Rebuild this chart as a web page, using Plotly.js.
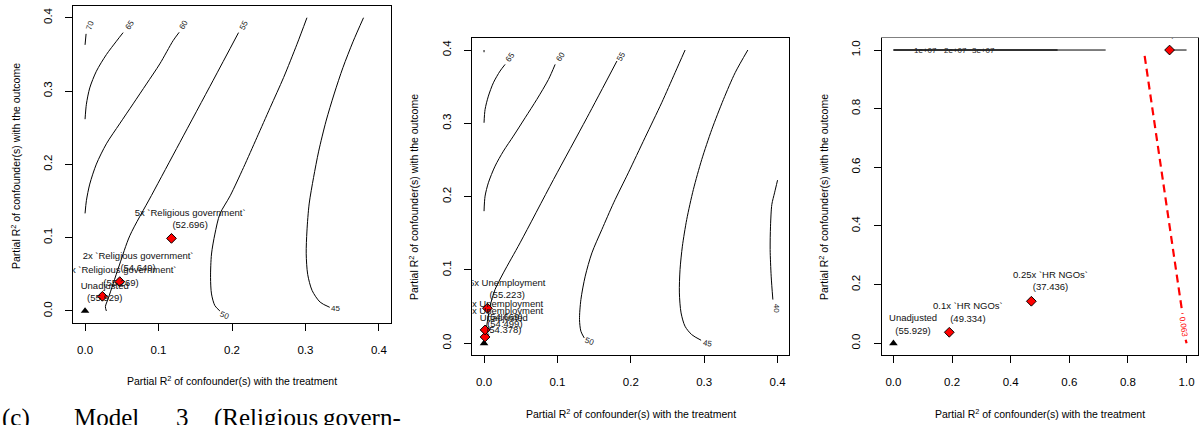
<!DOCTYPE html>
<html><head><meta charset="utf-8">
<script src="https://cdn.plot.ly/plotly-3.0.1.min.js"></script>
<style>html,body{margin:0;padding:0;background:#fff}#chart{width:1199px;height:425px}</style>
</head><body><div id="chart"></div>
<script>
// ===== Panel 1: Religious government =====
const p1_c70_x = [0, 0.0014];
const p1_c70_y = [0.363, 0.378];
const p1_c65_x = [0, 0.0018, 0.0064, 0.0154, 0.029, 0.0427, 0.0518];
const p1_c65_y = [0.2616, 0.282, 0.3043, 0.327, 0.3497, 0.368, 0.3797];
const p1_c60_x = [0, 0.0018, 0.0064, 0.0154, 0.029, 0.047, 0.0654, 0.0836, 0.1017, 0.1199, 0.1281];
const p1_c60_y = [0.1331, 0.1504, 0.1731, 0.2003, 0.228, 0.2552, 0.2825, 0.3097, 0.337, 0.3688, 0.3801];
const p1_c55_x = [0.029, 0.0277, 0.0313, 0.0381, 0.0472, 0.0609, 0.0904, 0.129, 0.1744, 0.2089];
const p1_c55_y = [0.0, 0.006, 0.0163, 0.0368, 0.064, 0.1026, 0.1576, 0.2298, 0.3147, 0.3797];
const p1_c50_x = [0.1835, 0.1767, 0.1721, 0.1708, 0.1721, 0.1767, 0.1835, 0.1975, 0.2157, 0.2339, 0.252, 0.2702, 0.2884, 0.302];
const p1_c50_y = [0.0, 0.0073, 0.0232, 0.0459, 0.0777, 0.1049, 0.1322, 0.1571, 0.1957, 0.2366, 0.2775, 0.3184, 0.3638, 0.4];
const p1_c45_x = [0.333, 0.320, 0.309, 0.303, 0.301, 0.302, 0.305, 0.311, 0.318, 0.328, 0.339, 0.351, 0.365, 0.379];
const p1_c45_y = [0.005, 0.012, 0.028, 0.050, 0.078, 0.109, 0.146, 0.182, 0.218, 0.259, 0.296, 0.332, 0.368, 0.4];
const p1_levels = ["70", "65", "60", "55", "50", "45"];
const p1_level_x = [0.0064, 0.060, 0.1335, 0.2157, 0.190, 0.3406];
const p1_level_y = [0.390, 0.390, 0.390, 0.390, -0.006, 0.0027];
const p1_unadj_x = [0];
const p1_unadj_y = [0];
const p1_bench_x = [0.0236, 0.0472, 0.1176];
const p1_bench_y = [0.020, 0.040, 0.099];
const p1_labels = ["Unadjusted<br>(55.929)", "1x `Religious government`<br>(55.269)", "2x `Religious government`<br>(54.649)", "5x `Religious government`<br>(52.696)"];
const p1_label_x = [0.0268, 0.0490, 0.0722, 0.143];
const p1_label_y = [0.0253, 0.0463, 0.0656, 0.1243];

// ===== Panel 2: Unemployment =====
const p2_c70_x = [0, 0];
const p2_c70_y = [0.397, 0.4];
const p2_c65_x = [0, 0.0014, 0.0059, 0.0127, 0.0218, 0.0287];
const p2_c65_y = [0.3008, 0.3189, 0.3371, 0.3553, 0.3713, 0.3804];
const p2_c60_x = [0, 0.0014, 0.0059, 0.015, 0.0264, 0.04, 0.056, 0.0719, 0.0878, 0.0969];
const p2_c60_y = [0.1802, 0.2007, 0.2189, 0.2416, 0.2621, 0.2826, 0.3076, 0.3326, 0.3599, 0.3804];
const p2_c55_x = [0.0018, 0.0036, 0.0082, 0.015, 0.0264, 0.0491, 0.0947, 0.1402, 0.1811];
const p2_c55_y = [0.0073, 0.0232, 0.0505, 0.0733, 0.096, 0.137, 0.2234, 0.3076, 0.385];
const p2_c50_x = [0.1365, 0.132, 0.1301, 0.132, 0.1379, 0.147, 0.1606, 0.1766, 0.1966, 0.2193, 0.2421, 0.2603, 0.274];
const p2_c50_y = [0.0073, 0.0164, 0.0323, 0.0596, 0.0915, 0.1233, 0.1552, 0.1916, 0.2325, 0.2803, 0.3281, 0.3691, 0.4];
const p2_c45_x = [0.2958, 0.283, 0.2739, 0.2685, 0.2662, 0.2671, 0.2703, 0.2762, 0.2853, 0.2967, 0.3104, 0.3263, 0.3422, 0.3595];
const p2_c45_y = [0.0041, 0.0118, 0.0232, 0.0414, 0.0687, 0.1006, 0.1324, 0.1688, 0.2098, 0.2507, 0.2917, 0.3327, 0.3691, 0.4];
const p2_c40_x = [0.4, 0.3959, 0.3922, 0.3904, 0.3899, 0.3913, 0.3936];
const p2_c40_y = [0.2225, 0.2052, 0.1893, 0.1597, 0.1279, 0.0915, 0.0596];
const p2_levels = ["65", "60", "55", "50", "45", "40"];
const p2_level_x = [0.0355, 0.1047, 0.1866, 0.1438, 0.3049, 0.3982];
const p2_level_y = [0.3895, 0.391, 0.3918, 0.0027, -0.0005, 0.0482];
const p2_unadj_x = [0];
const p2_unadj_y = [0];
const p2_bench_x = [0.0014, 0.0014, 0.0046];
const p2_bench_y = [0.0086, 0.0182, 0.0478];
const p2_labels = ["Unadjusted<br>(54.378)", "1x Unemployment<br>(54.499)", "2x Unemployment<br>(54.669)", "5x Unemployment<br>(55.223)"];
const p2_label_x = [0.027, 0.0284, 0.0284, 0.0315];
const p2_label_y = [0.0255, 0.0345, 0.0440, 0.0730];

// ===== Panel 3: HR NGOs =====
const p3_top_x = [0, 0.724];
const p3_top_y = [1.0, 1.0];
const p3_top2_x = [0, 0.56];
const p3_top2_y = [1.0, 1.0];
const p3_right_x = [0.942, 1.0];
const p3_right_y = [1.0, 1.0];
const p3_red_x = [0.857, 0.986];
const p3_red_y = [0.98, 0.10];
const p3_red2_x = [0.997, 1.0];
const p3_red2_y = [0.012, 0.0];
const p3_levels = ["1e+07", "2e+07", "3e+07"];
const p3_level_x = [0.109, 0.211, 0.306];
const p3_level_y = [1.0, 1.0, 1.0];
const p3_red_label = "0.063";
const p3_red_label_x = 0.988;
const p3_red_label_y = 0.056;
const p3_unadj_x = [0];
const p3_unadj_y = [0];
const p3_bench_x = [0.1905, 0.4705, 0.942];
const p3_bench_y = [0.0375, 0.1433, 1.0];
const p3_labels = ["Unadjusted<br>(55.929)", "0.1x `HR NGOs`<br>(49.334)", "0.25x `HR NGOs`<br>(37.436)", "1x `HR NGOs`<br>(-20.437)"];
const p3_label_x = [0.067, 0.254, 0.536, 1.009];
const p3_label_y = [0.062, 0.103, 0.2094, 1.072];

const caption_words = ["(c)", "Model", "3", "(Religious", "govern-"];
const caption_px = [0, 72, 174, 212, 321];

// ===== build =====
const FONT = "Liberation Sans, Arial, Helvetica, sans-serif";
const W = 1199, H = 425;
const traces = [];
function line(ax, x, y, opts) {
  opts = opts || {};
  traces.push({type: 'scatter', mode: 'lines', x: x, y: y, xaxis: 'x' + ax, yaxis: 'y' + ax,
    line: Object.assign({color: '#000', width: 1, shape: 'spline', smoothing: 0.8}, opts),
    hoverinfo: 'skip', showlegend: false});
}
function markers(ax, ux, uy, bx, by) {
  traces.push({type: 'scatter', mode: 'markers', x: ux, y: uy, xaxis: 'x' + ax, yaxis: 'y' + ax,
    marker: {symbol: 'triangle-up', size: 7.5, color: '#000'}, hoverinfo: 'skip', showlegend: false});
  traces.push({type: 'scatter', mode: 'markers', x: bx, y: by, xaxis: 'x' + ax, yaxis: 'y' + ax,
    marker: {symbol: 'diamond', size: 7.5, color: '#ff0000', line: {color: '#000', width: 1}},
    hoverinfo: 'skip', showlegend: false});
}
function labels(ax, x, y, t) {
  traces.push({type: 'scatter', mode: 'text', x: x, y: y, text: t, xaxis: 'x' + ax, yaxis: 'y' + ax,
    textposition: 'middle center', cliponaxis: true,
    textfont: {family: FONT, size: 9.5, color: '#111'}, hoverinfo: 'skip', showlegend: false});
}

// panel 1
line('', p1_c70_x, p1_c70_y); line('', p1_c65_x, p1_c65_y); line('', p1_c60_x, p1_c60_y);
line('', p1_c55_x, p1_c55_y); line('', p1_c50_x, p1_c50_y); line('', p1_c45_x, p1_c45_y);
markers('', p1_unadj_x, p1_unadj_y, p1_bench_x, p1_bench_y);
labels('', p1_label_x, p1_label_y, p1_labels);
// panel 2
line('2', p2_c70_x, p2_c70_y); line('2', p2_c65_x, p2_c65_y); line('2', p2_c60_x, p2_c60_y);
line('2', p2_c55_x, p2_c55_y); line('2', p2_c50_x, p2_c50_y); line('2', p2_c45_x, p2_c45_y);
line('2', p2_c40_x, p2_c40_y);
markers('2', p2_unadj_x, p2_unadj_y, p2_bench_x, p2_bench_y);
labels('2', p2_label_x, p2_label_y, p2_labels);
// panel 3
line('3', p3_top2_x, p3_top2_y, {color: '#333', width: 1.4});
line('3', p3_top_x, p3_top_y);
line('3', p3_right_x, p3_right_y);
line('3', p3_red_x, p3_red_y, {color: '#ff0000', width: 2.2, dash: '8px,5px', shape: 'linear'});
line('3', p3_red2_x, p3_red2_y, {color: '#ff0000', width: 2.2, shape: 'linear'});
markers('3', p3_unadj_x, p3_unadj_y, p3_bench_x, p3_bench_y);
labels('3', p3_label_x, p3_label_y, p3_labels);

const ann = [];
const p1_angles = [-72, -55, -60, -62, 22, 0];
const p2_angles = [-55, -58, -60, 20, 8, 90];
function lvl(ax, t, x, y, a, color) {
  ann.push({xref: 'x' + ax, yref: 'y' + ax, x: x, y: y, text: t, textangle: a, showarrow: false,
    font: {family: FONT, size: 8, color: color || '#222'}, xanchor: 'center', yanchor: 'middle'});
}
p1_levels.forEach((t, i) => lvl('', t, p1_level_x[i], p1_level_y[i], p1_angles[i]));
p2_levels.forEach((t, i) => lvl('2', t, p2_level_x[i], p2_level_y[i], p2_angles[i]));
p3_levels.forEach((t, i) => lvl('3', t, p3_level_x[i], p3_level_y[i], 0));
lvl('3', p3_red_label, p3_red_label_x, p3_red_label_y, 82, '#ff0000');

const TF = {family: FONT, size: 10.5, color: '#000'};
const xt = "Partial R<sup>2</sup> of confounder(s) with the treatment";
const yt = "Partial R<sup>2</sup> of confounder(s) with the outcome";
function pa(text, px, py, angle) {
  ann.push({xref: 'paper', yref: 'paper', x: px / W, y: 1 - py / H, text: text, textangle: angle || 0,
    showarrow: false, font: TF, xanchor: 'center', yanchor: 'middle'});
}
pa(xt, 232, 380); pa(xt, 631, 413); pa(xt, 1040, 413);
pa(yt, 15, 166, -90); pa(yt, 413, 197, -90); pa(yt, 823, 197, -90);

caption_words.forEach((w, i) => {
  ann.push({xref: 'paper', yref: 'paper', x: caption_px[i] / W, y: 1 - 402 / H, text: w, showarrow: false,
    xanchor: 'left', yanchor: 'top', font: {family: 'Liberation Serif, Times New Roman, serif', size: 25, color: '#000'}});
});

function axis(dom, range, dtick, extra) {
  return Object.assign({domain: dom, range: range, dtick: dtick, tick0: 0, tickformat: '.1f',
    showgrid: false, zeroline: false, showline: true, mirror: true, linecolor: '#000', linewidth: 1,
    ticks: 'outside', ticklen: 7, tickwidth: 1, tickcolor: '#000', ticklabelstandoff: 9,
    tickfont: {family: FONT, size: 11.5, color: '#000'}, fixedrange: true}, extra || {});
}
const r1 = [-0.016, 0.416], r3 = [-0.04, 1.04];
const layout = {
  width: W, height: H, margin: {l: 0, r: 0, t: 0, b: 0}, paper_bgcolor: '#fff', plot_bgcolor: '#fff',
  showlegend: false,
  xaxis: axis([73.3 / W, 390.7 / W], r1, 0.1, {anchor: 'y'}),
  yaxis: axis([1 - 322.7 / H, 1 - 6 / H], r1, 0.1, {anchor: 'x', tickangle: -90}),
  xaxis2: axis([472.3 / W, 789.3 / W], r1, 0.1, {anchor: 'y2'}),
  yaxis2: axis([1 - 355 / H, 1 - 38.3 / H], r1, 0.1, {anchor: 'x2', tickangle: -90}),
  xaxis3: axis([881.7 / W, 1198.3 / W], r3, 0.2, {anchor: 'y3'}),
  yaxis3: axis([1 - 355 / H, 1 - 38.3 / H], r3, 0.2, {anchor: 'x3', tickangle: -90}),
  // white mask above panel 3 so the out-of-range benchmark label is cut at the box edge
  shapes: [{type: 'rect', xref: 'paper', yref: 'paper', layer: 'above',
    x0: 860 / W, x1: 1, y0: 1 - 37.6 / H, y1: 1, fillcolor: '#fff', line: {width: 0}}],
  annotations: ann
};
Plotly.newPlot('chart', traces, layout, {staticPlot: true, displayModeBar: false});
</script>
</body></html>
